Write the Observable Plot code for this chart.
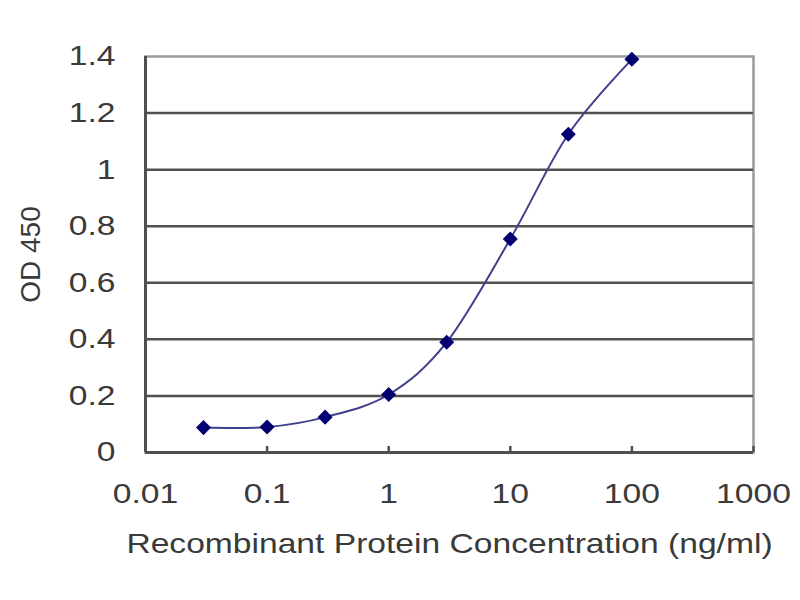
<!DOCTYPE html>
<html>
<head>
<meta charset="utf-8">
<script src="https://cdn.jsdelivr.net/npm/d3@7"></script>
<script src="https://cdn.jsdelivr.net/npm/@observablehq/plot@0.6"></script>
<style>
  html, body { margin: 0; padding: 0; background: #fff; }
  #chart { width: 800px; height: 600px; }
</style>
</head>
<body>
<div id="chart"></div>
<script>
const concentrations = [0.03, 0.1, 0.3, 1, 3, 10, 30, 100];
const odValues = [0.088, 0.09, 0.125, 0.205, 0.39, 0.755, 1.125, 1.39];
const xTicks = [0.01, 0.1, 1, 10, 100, 1000];
const yTicks = [0, 0.2, 0.4, 0.6, 0.8, 1, 1.2, 1.4];
const xTitle = "Recombinant Protein Concentration (ng/ml)";
const yTitle = "OD 450";

const data = concentrations.map((c, i) => ({conc: c, od: odValues[i]}));
const font = "'Liberation Sans', Arial, sans-serif";

const chart = Plot.plot({
  width: 800,
  height: 600,
  marginLeft: 145,
  marginRight: 47,
  marginTop: 56,
  marginBottom: 148,
  style: {fontFamily: font, fontSize: "28px", color: "#3a3a3a", background: "#fff"},
  x: {type: "log", domain: [0.01, 1000]},
  y: {domain: [0, 1.4]},
  marks: [
    Plot.frame({stroke: "#9a9a9a", strokeWidth: 2.5}),
    Plot.gridY(yTicks.filter(d => d > 0 && d < 1.4), {stroke: "#505050", strokeWidth: 2.5, strokeOpacity: 1}),
    Plot.axisY(yTicks, {
      tickSize: 0, tickPadding: 30, fontSize: 28, fill: "#3a3a3a",
      tickFormat: d => String(d),
      label: yTitle, labelAnchor: "center", labelArrow: "none", labelOffset: 125
    }),
    Plot.axisX(xTicks, {
      tickSize: -6, tickPadding: 37, fontSize: 28, fill: "#3a3a3a", stroke: "#505050", strokeWidth: 2.5,
      tickFormat: d => String(d),
      label: xTitle, labelAnchor: "center", labelArrow: "none", labelOffset: 100
    }),
    Plot.ruleX([0.01], {stroke: "#505050", strokeWidth: 3}),
    Plot.ruleY([0], {stroke: "#505050", strokeWidth: 3}),
    Plot.line(data, {x: "conc", y: "od", stroke: "#40408c", strokeWidth: 2, curve: "cardinal"}),
    Plot.dot(data, {x: "conc", y: "od", symbol: "square", rotate: 45, r: 6, fill: "#000070", stroke: "none"})
  ]
});

document.getElementById("chart").appendChild(chart);

// Reference text is horizontally stretched (~1.2x); widen glyphs to match
chart.querySelectorAll("text").forEach(t => {
  const bb = t.getBBox();
  const rot = (t.getAttribute("transform") || "").includes("rotate");
  if (!rot && bb.width > 0) {
    t.setAttribute("textLength", (bb.width * 1.2).toFixed(1));
    t.setAttribute("lengthAdjust", "spacingAndGlyphs");
  }
});
</script>
</body>
</html>
